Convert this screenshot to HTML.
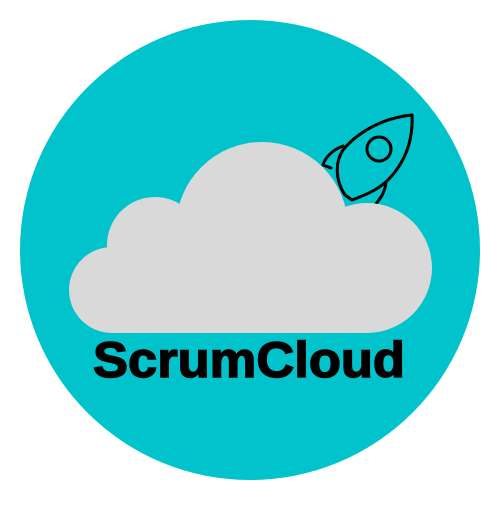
<!DOCTYPE html>
<html><head><style>html,body{margin:0;padding:0;background:#fff}</style></head>
<body>
<svg width="500" height="500" viewBox="0 0 500 500" xmlns="http://www.w3.org/2000/svg">
<circle cx="250" cy="250" r="230" fill="#00C3CC"/>
<g fill="none" stroke="#000" stroke-width="3" stroke-linejoin="round" stroke-linecap="round">
<path d="M412,115 C380,118 355,135 343,150 C335,162 335,180 345,195 L352,200 C368,194 383,188 395,172 C408,155 413,135 412,115 Z"/>
<path d="M343,146 C332,150 325,158 323,165 L331,168"/>
<path d="M386,182 C385,192 381,198 375,205"/>
<circle cx="379" cy="149" r="12"/>
</g>
<g fill="#D9D9D9">
<circle cx="262" cy="228" r="86"/>
<circle cx="155" cy="245" r="48"/>
<circle cx="112" cy="290" r="43"/>
<circle cx="367" cy="268" r="65"/>
<rect x="112" y="240" width="255" height="93"/>
</g>
<text x="93" y="377" font-family="Liberation Sans, sans-serif" font-weight="bold" font-size="50" textLength="312" lengthAdjust="spacingAndGlyphs" fill="#000" stroke="#000" stroke-width="1.5">ScrumCloud</text>
</svg>
</body></html>
